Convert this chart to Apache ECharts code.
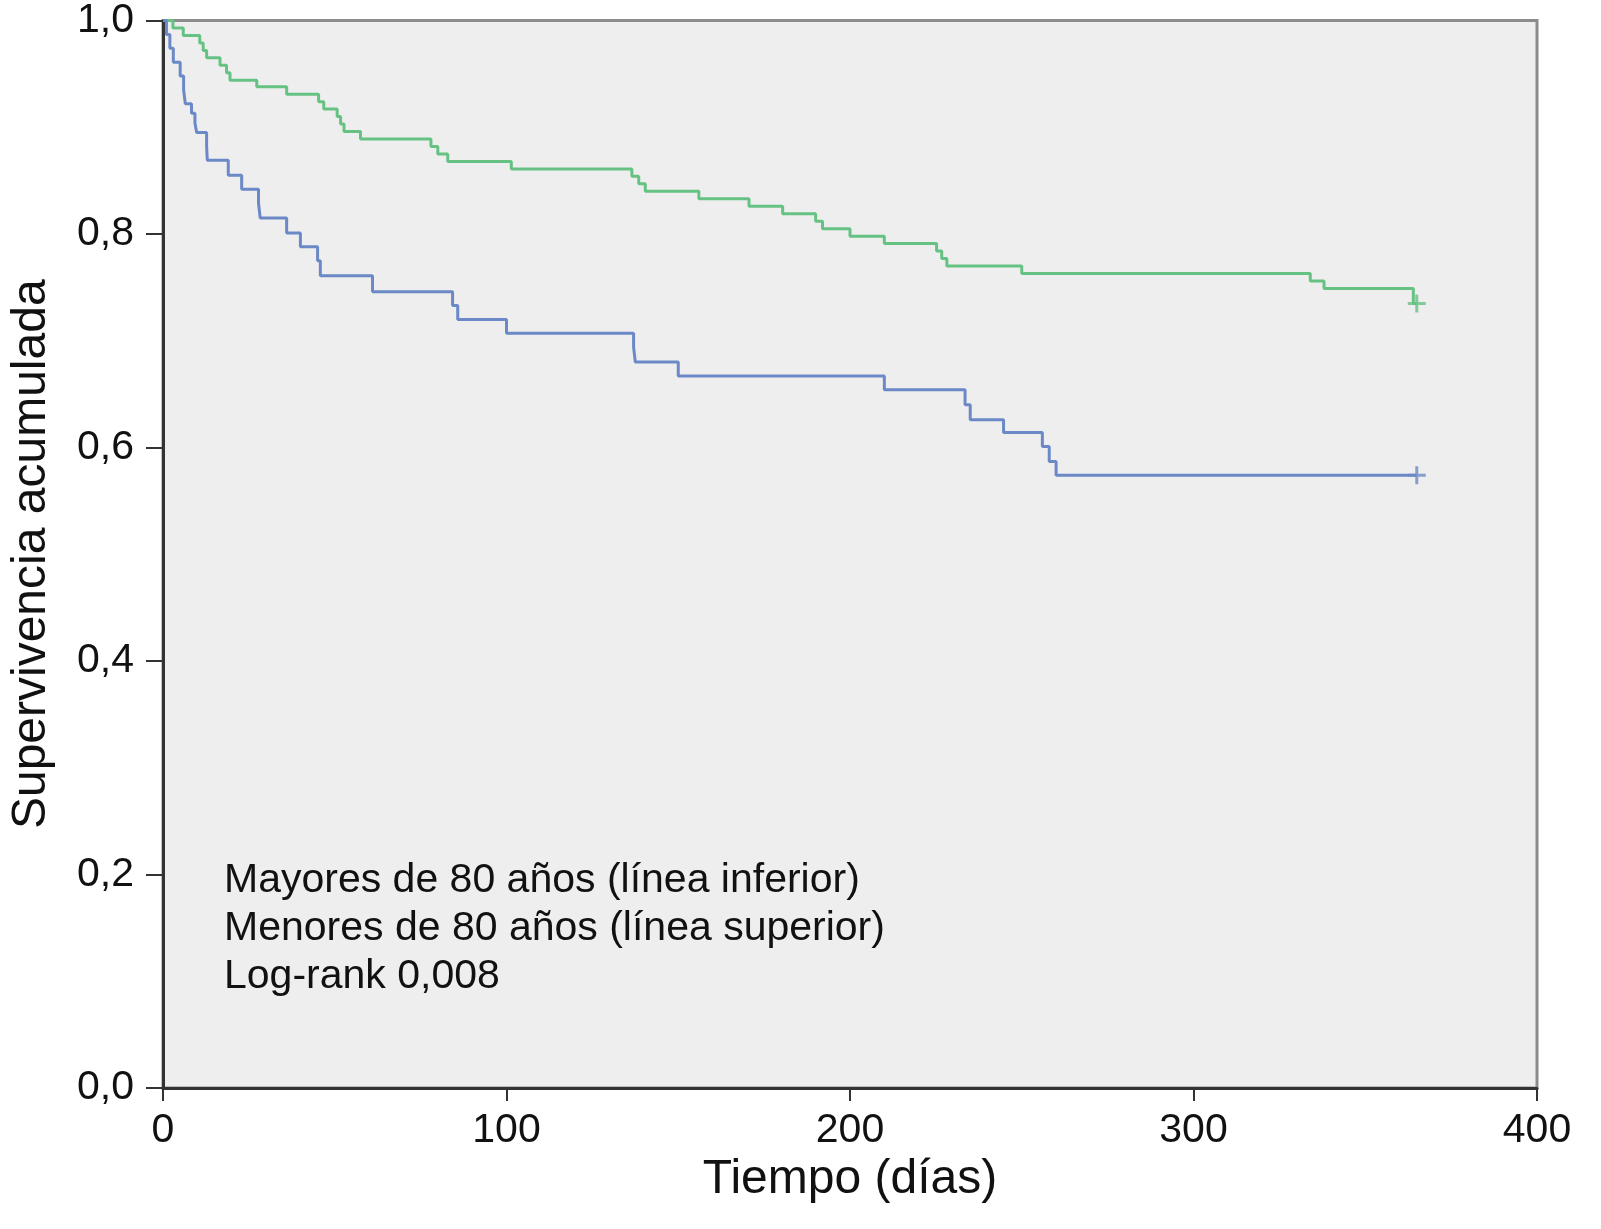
<!DOCTYPE html>
<html>
<head>
<meta charset="utf-8">
<script src="https://cdn.jsdelivr.net/npm/echarts@6/dist/echarts.min.js"></script>
<style>
html,body{margin:0;padding:0;background:#ffffff;}
#chart{width:1601px;height:1229px;}
</style>
</head>
<body>
<div id="chart"></div>
<script>
// Kaplan-Meier data: day and cumulative survival after each event
const greenDays = [0, 2.9, 5.9, 10.7, 11.7, 12.7, 16.6, 18.5, 19.5, 27.3, 36, 45.3, 46.8, 50.7, 51.7, 52.7, 57.5, 78, 80, 82.9, 101.4, 136.5, 138.5, 140.4, 156, 170.6, 180.4, 190, 192, 200, 210, 225.2, 226.7, 228.2, 250, 334, 338, 364, 365];
const greenSurv = [1.0, 0.993, 0.986, 0.979, 0.972, 0.965, 0.958, 0.951, 0.944, 0.938, 0.931, 0.924, 0.917, 0.910, 0.903, 0.896, 0.889, 0.882, 0.875, 0.868, 0.861, 0.854, 0.847, 0.840, 0.833, 0.826, 0.819, 0.812, 0.805, 0.798, 0.791, 0.784, 0.777, 0.770, 0.763, 0.756, 0.749, 0.735, 0.735];

const blueDays = [0, 1, 2, 3, 5, 6, 6.5, 8.3, 9.3, 9.8, 12.7, 12.9, 19, 22.9, 27.8, 28.3, 36, 40, 45, 45.8, 61, 84.3, 85.8, 100, 137, 137.5, 150, 210, 233.5, 235, 244.7, 256, 258, 260, 365];
const blueSurv = [1.0, 0.987, 0.974, 0.961, 0.948, 0.935, 0.922, 0.913, 0.904, 0.895, 0.882, 0.869, 0.855, 0.842, 0.829, 0.815, 0.801, 0.788, 0.775, 0.761, 0.746, 0.733, 0.720, 0.707, 0.694, 0.680, 0.667, 0.654, 0.640, 0.626, 0.614, 0.601, 0.587, 0.574, 0.574];

const greenCensor = [[365, 0.735]];
const blueCensor = [[365, 0.574]];

const xTicks = [0, 100, 200, 300, 400];
const yTicks = [0, 0.2, 0.4, 0.6, 0.8, 1.0];

const annotationLines = [
  'Mayores de 80 años (línea inferior)',
  'Menores de 80 años (línea superior)',
  'Log-rank 0,008'
];

const GREEN = '#66c283';
const BLUE = '#6b89c6';
const FONT = '"Liberation Sans", Arial, Helvetica, sans-serif';

function zip(a, b) { return a.map((v, i) => [v, b[i]]); }
const plusPath = 'path://M0,5 L10,5 M5,0 L5,10';

const chart = echarts.init(document.getElementById('chart'), null, {renderer: 'canvas'});
chart.setOption({
  backgroundColor: '#ffffff',
  animation: false,
  grid: {
    left: 152, right: 64, top: 18, bottom: 141,
    show: true, backgroundColor: '#eeeeee',
    borderColor: '#8c8c8c', borderWidth: 3
  },
  xAxis: {
    type: 'value', min: 0, max: 400, interval: 100,
    name: 'Tiempo (días)', nameLocation: 'middle', nameGap: 68,
    nameTextStyle: {fontSize: 48, color: '#111', fontFamily: FONT},
    axisLine: {show: true, onZero: false, lineStyle: {color: '#333', width: 3}},
    axisTick: {show: true, length: 13, lineStyle: {color: '#333', width: 2}},
    axisLabel: {fontSize: 41, color: '#111', fontFamily: FONT, margin: 22,
      formatter: v => xTicks.includes(v) ? String(v) : ''},
    splitLine: {show: false}
  },
  yAxis: {
    type: 'value', min: 0, max: 1, interval: 0.2,
    name: 'Supervivencia acumulada', nameLocation: 'middle', nameGap: 107,
    nameTextStyle: {fontSize: 48, color: '#111', fontFamily: FONT},
    axisLine: {show: true, onZero: false, lineStyle: {color: '#333', width: 3}},
    axisTick: {show: true, length: 17, lineStyle: {color: '#333', width: 2}},
    axisLabel: {fontSize: 41, color: '#111', fontFamily: FONT, margin: 29,
      formatter: v => yTicks.some(t => Math.abs(t - v) < 1e-9) ? v.toFixed(1).replace('.', ',') : ''},
    splitLine: {show: false}
  },
  series: [
    {
      name: 'Menores de 80 años', type: 'line', step: 'end',
      data: zip(greenDays, greenSurv), showSymbol: false, symbol: 'none',
      lineStyle: {color: GREEN, width: 3}, z: 3
    },
    {
      name: 'Mayores de 80 años', type: 'line', step: 'end',
      data: zip(blueDays, blueSurv), showSymbol: false, symbol: 'none',
      lineStyle: {color: BLUE, width: 3}, z: 3
    },
    {
      type: 'scatter', data: greenCensor, symbol: plusPath, symbolSize: 18,
      itemStyle: {color: 'none', borderColor: GREEN, borderWidth: 3}, z: 4
    },
    {
      type: 'scatter', data: blueCensor, symbol: plusPath, symbolSize: 18,
      itemStyle: {color: 'none', borderColor: BLUE, borderWidth: 3}, z: 4
    }
  ],
  graphic: [{
    type: 'text', left: 224, top: 857,
    style: {
      text: annotationLines.join('\n'),
      fontSize: 41, lineHeight: 48, fill: '#111', fontFamily: FONT
    }
  }]
});
</script>
</body>
</html>
